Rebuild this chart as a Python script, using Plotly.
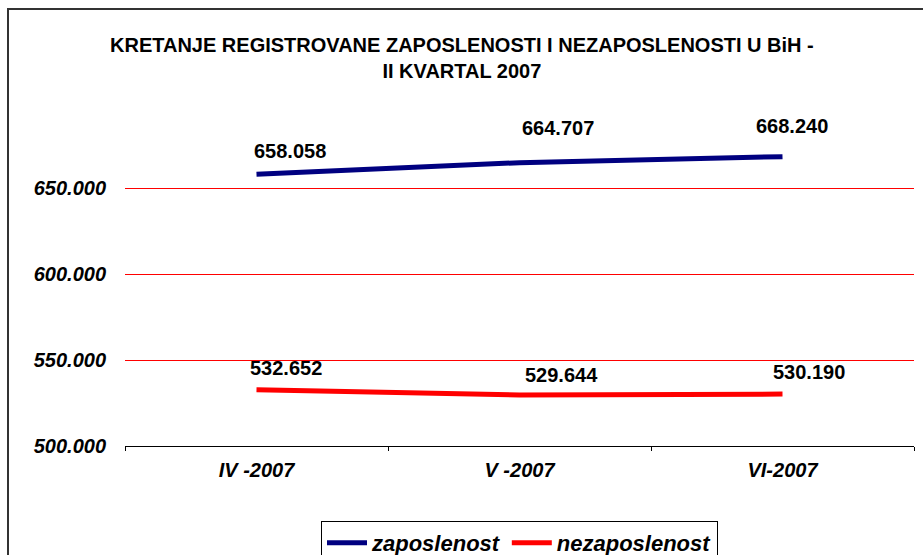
import plotly.graph_objects as go

categories = ["IV -2007", "V -2007", "VI-2007"]
zaposlenost = [658058, 664707, 668240]
nezaposlenost = [532652, 529644, 530190]
zap_labels = ["658.058", "664.707", "668.240"]
nez_labels = ["532.652", "529.644", "530.190"]
y_tickvals = [500000, 550000, 600000, 650000]
y_ticktext = ["500.000", "550.000", "600.000", "650.000"]
title_text = "KRETANJE REGISTROVANE ZAPOSLENOSTI I NEZAPOSLENOSTI U BiH -<br>II KVARTAL 2007"

# label offsets (pixels) for value labels
zap_dx = [33, 38, 9]
zap_dy = [23, 35, 31]
nez_dx = [29, 42, 26]
nez_dy = [22, 20, 22]

BLUE = "#000080"
RED = "#FF0000"
FONT = "Liberation Sans, Arial, sans-serif"

fig = go.Figure()
fig.add_trace(go.Scatter(x=categories, y=zaposlenost, mode="lines", name="zaposlenost",
                         line=dict(color=BLUE, width=5)))
fig.add_trace(go.Scatter(x=categories, y=nezaposlenost, mode="lines", name="nezaposlenost",
                         line=dict(color=RED, width=5)))

annotations = []
for cat, val, lab, dx, dy in zip(categories, zaposlenost, zap_labels, zap_dx, zap_dy):
    annotations.append(dict(x=cat, y=val, text=lab, showarrow=False, xshift=dx, yshift=dy,
                            font=dict(family=FONT, size=20, color="black", weight="bold")))
for cat, val, lab, dx, dy in zip(categories, nezaposlenost, nez_labels, nez_dx, nez_dy):
    annotations.append(dict(x=cat, y=val, text=lab, showarrow=False, xshift=dx, yshift=dy,
                            font=dict(family=FONT, size=20, color="black", weight="bold")))

annotations.append(dict(x=(462 - 125) / 789, y=(446 - 58) / 344, xref="paper", yref="paper",
                        yanchor="middle", text=title_text, showarrow=False,
                        font=dict(family=FONT, size=20, color="black", weight="bold")))

fig.update_layout(
    width=923, height=555,
    margin=dict(l=125, r=9, t=102, b=109, autoexpand=False),
    paper_bgcolor="white", plot_bgcolor="white",
    showlegend=True,
    legend=dict(orientation="h", x=0.5, xanchor="center", y=-0.218, yanchor="top",
                bordercolor="black", borderwidth=1,
                font=dict(family=FONT, size=22, color="black", style="italic", weight="bold"),
                tracegroupgap=0, itemwidth=40),
    annotations=annotations,
    shapes=[dict(type="rect", xref="paper", yref="paper",
                 x0=(8 - 125) / 789, x1=1.2, y0=-0.6, y1=(446 - 9) / 344,
                 line=dict(color="#333333", width=2), layer="below")],
)

fig.update_xaxes(type="category", showgrid=False, showline=True, linecolor="black", linewidth=1,
                 ticks="outside", tickson="boundaries", ticklen=4, tickcolor="black",
                 automargin=False, ticklabelstandoff=6,
                 tickfont=dict(family=FONT, size=20, color="black", style="italic", weight="bold"),
                 zeroline=False, range=[-0.5, 2.5])
fig.update_yaxes(range=[500000, 700000], tickvals=y_tickvals, ticktext=y_ticktext,
                 showgrid=True, gridcolor=RED, gridwidth=1, zeroline=False, showline=False,
                 ticks="", ticklabelstandoff=18, automargin=False,
                 tickfont=dict(family=FONT, size=20, color="black", style="italic", weight="bold"))

fig.write_html("out.html", config={"displayModeBar": False})

# remove the default page margin so the figure sits at the window's top-left corner
with open("out.html", encoding="utf-8") as f:
    html = f.read()
html = html.replace("<head>", "<head><style>html,body{margin:0;padding:0;overflow:hidden;}</style>", 1)
with open("out.html", "w", encoding="utf-8") as f:
    f.write(html)
